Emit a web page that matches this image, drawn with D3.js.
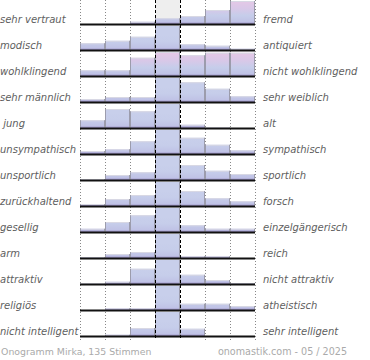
<!DOCTYPE html>
<html><head><meta charset="utf-8">
<script src="https://cdn.jsdelivr.net/npm/d3@7"></script>
<style>
html,body{margin:0;padding:0;background:#fff;}
svg{display:block;}
text{font-family:"DejaVu Sans",sans-serif;}
</style></head>
<body>
<svg id="chart" width="370" height="360"></svg>
<script>
// ---- data ----
const leftLabels = ["sehr vertraut","modisch","wohlklingend","sehr männlich"," jung","unsympathisch","unsportlich","zurückhaltend","gesellig","arm","attraktiv","religiös","nicht intelligent"];
const rightLabels = ["fremd","antiquiert","nicht wohlklingend","sehr weiblich","alt","sympathisch","sportlich","forsch","einzelgängerisch","reich","nicht attraktiv","atheistisch","sehr intelligent"];
const scalePoints = [1,2,3,4,5,6,7];
// share of votes per scale point (center values exceed the row and are clipped)
const votes = [
  [0, 0, 13, 27, 36, 60, 96],
  [31, 41, 57, 200, 27, 21, 9],
  [27, 27, 77, 100, 87, 97, 97],
  [16, 24, 24, 200, 83, 57, 27],
  [35, 80, 71, 200, 17, 5, 4],
  [16, 23, 55, 200, 69, 41, 19],
  [8, 24, 35, 200, 64, 41, 28],
  [12, 32, 48, 200, 64, 35, 23],
  [17, 44, 71, 200, 31, 17, 17],
  [7, 20, 28, 200, 11, 11, 0],
  [5, 13, 65, 200, 41, 20, 7],
  [4, 11, 11, 200, 29, 29, 20],
  [0, 9, 36, 200, 33, 0, 0]
];
const footerLeft = "Onogramm Mirka, 135 Stimmen";
const footerRight = "onomastik.com - 05 / 2025";

// ---- drawing ----
const svg = d3.select("#chart");
const rows = d3.range(leftLabels.length);
const x = d3.scaleBand().domain(scalePoints).range([80, 255]).padding(0);
const y = d3.scaleBand().domain(rows).range([-1, 337]).padding(0);
const rowH = y.bandwidth();
const h = d3.scaleLinear().domain([0, 100]).range([0, 25]);
const base = i => y(i) + rowH;
const warmRows = new Set([0, 2]);

const defs = svg.append("defs");
rows.forEach(i => {
  const gr = defs.append("linearGradient").attr("id","grad"+i)
    .attr("gradientUnits","userSpaceOnUse")
    .attr("x1",0).attr("x2",0).attr("y1", y(i) + 1).attr("y2", base(i));
  const top = warmRows.has(i) ? "#e6c8e6" : "#c8cfeb";
  const mid = warmRows.has(i) ? "#d8c8e8" : "#c8cfeb";
  gr.append("stop").attr("offset","0%").attr("stop-color", top);
  gr.append("stop").attr("offset","35%").attr("stop-color", mid);
  gr.append("stop").attr("offset","62%").attr("stop-color","#c6cdea");
  gr.append("stop").attr("offset","86%").attr("stop-color","#c0c3e6");
  gr.append("stop").attr("offset","100%").attr("stop-color","#9284bc");
  defs.append("clipPath").attr("id","clip"+i)
    .append("rect").attr("x",70).attr("width",200)
    .attr("y", y(i) + 1).attr("height", rowH - 1);
});

// center column background
svg.append("rect").attr("x", x(4)).attr("width", x.bandwidth())
  .attr("y", 0).attr("height", 338).attr("fill", "#eeeeee");

// dotted grid lines
const gridX = [x(1), x(2), x(3), x(6), x(7), x(7) + x.bandwidth()];
svg.append("g").selectAll("line").data(gridX).join("line")
  .attr("x1", d => d + 0.5).attr("x2", d => d + 0.5)
  .attr("y1", 0).attr("y2", 340)
  .attr("stroke", "#888").attr("stroke-width", 1).attr("stroke-dasharray", "1,2");

// bars
rows.forEach(i => {
  const g = svg.append("g").attr("clip-path", `url(#clip${i})`);
  const data = votes[i].map((v, j) => ({v, k: scalePoints[j]})).filter(d => d.v > 0);
  g.selectAll("rect").data(data).join("rect")
    .attr("x", d => x(d.k)).attr("width", x.bandwidth())
    .attr("y", d => base(i) - h(d.v)).attr("height", d => h(d.v))
    .attr("fill", `url(#grad${i})`);
  g.selectAll("path.top").data(data).join("path").attr("class","top")
    .attr("d", d => `M${x(d.k)},${base(i) - h(d.v) + 0.5}H${x(d.k) + x.bandwidth()}`)
    .attr("stroke", "#d8d8e4").attr("stroke-width", 1).attr("fill","none");
  g.selectAll("path.side").data(data).join("path").attr("class","side")
    .attr("d", d => `M${x(d.k) + 0.5},${base(i)}V${base(i) - h(d.v)}M${x(d.k) + x.bandwidth() - 0.5},${base(i)}V${base(i) - h(d.v)}`)
    .attr("stroke", "#9c9cac").attr("stroke-width", 1).attr("fill","none");
});

// baselines
svg.append("g").selectAll("line").data(rows).join("line")
  .attr("x1", 80).attr("x2", 255)
  .attr("y1", i => base(i) - 0.5).attr("y2", i => base(i) - 0.5)
  .attr("stroke", "#111").attr("stroke-width", 1.8);

// center dashed lines
svg.append("g").selectAll("line").data([x(4), x(5)]).join("line")
  .attr("x1", d => d + 0.5).attr("x2", d => d + 0.5)
  .attr("y1", 0).attr("y2", 340)
  .attr("stroke", "#000").attr("stroke-width", 1).attr("stroke-dasharray", "3,2");

// labels
svg.append("g").selectAll("text").data(rows).join("text")
  .attr("x", 0).attr("y", i => base(i) - 2)
  .attr("font-size", 10).attr("font-style", "italic").attr("fill", "#606060")
  .attr("xml:space", "preserve").style("white-space","pre")
  .text(i => leftLabels[i]);
svg.append("g").selectAll("text").data(rows).join("text")
  .attr("x", 263).attr("y", i => base(i) - 2)
  .attr("font-size", 10).attr("font-style", "italic").attr("fill", "#606060")
  .text(i => rightLabels[i]);

// footer
svg.append("text").attr("x", 1).attr("y", 355).attr("font-size", 9.4)
  .attr("fill", "#aaa").text(footerLeft);
svg.append("text").attr("x", 347).attr("y", 355).attr("font-size", 9.6)
  .attr("text-anchor", "end").attr("fill", "#aaa").text(footerRight);
</script>
</body></html>
